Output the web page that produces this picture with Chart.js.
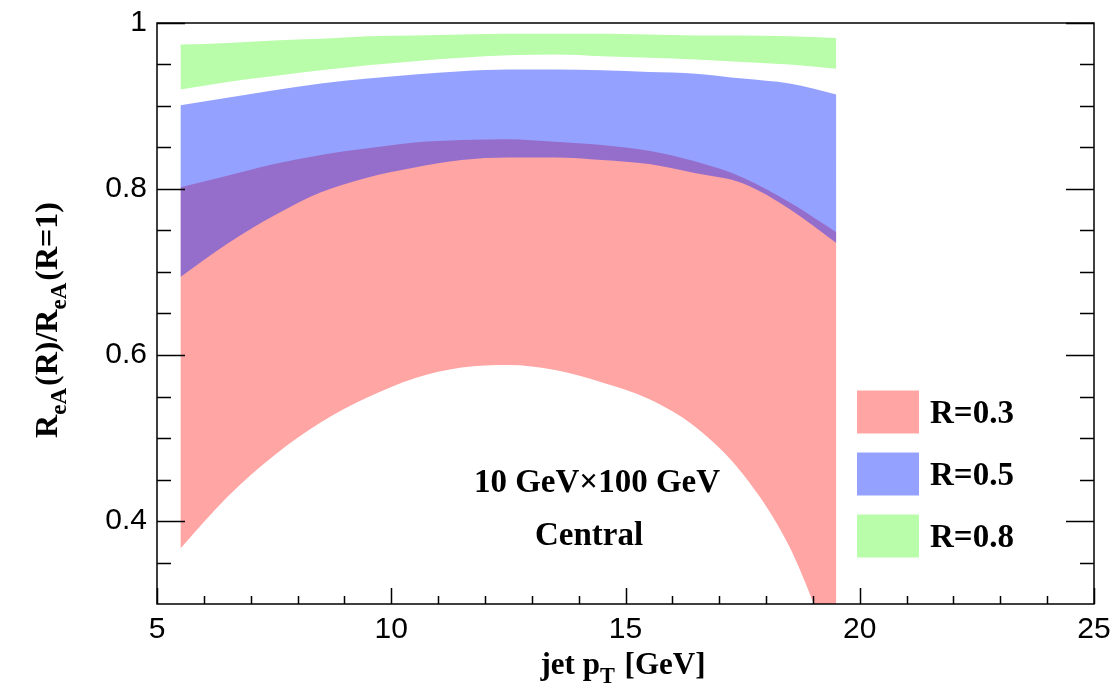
<!DOCTYPE html>
<html lang="en">
<head>
    <meta charset="UTF-8">
    <title>Jet R dependence of R_eA</title>
    <script src="https://cdn.jsdelivr.net/npm/chart.js"></script>
    <style>
        body {
            margin: 0;
            background: #fff;
        }
        #bandChart {
            display: block;
        }
    </style>
</head>
<body>
    <canvas id="bandChart" width="1112" height="692"></canvas>

    <script>
        // jet pT grid (GeV) and the lower / upper edges of each uncertainty band
        const ptGeV = [5.5, 6.5, 7.5, 8.5, 9.5, 10.5, 11.5, 12.5, 13.5, 14.5, 15.5, 16.5, 17.5, 18.5, 19.5];

        const r03Low  = [0.367, 0.429, 0.479, 0.519, 0.549, 0.572, 0.585, 0.588, 0.582, 0.567, 0.547, 0.513, 0.457, 0.369, 0.230];
        const r03High = [0.802, 0.816, 0.830, 0.841, 0.849, 0.856, 0.859, 0.860, 0.857, 0.853, 0.846, 0.833, 0.814, 0.784, 0.748];

        const r05Low  = [0.694, 0.734, 0.768, 0.796, 0.814, 0.826, 0.835, 0.838, 0.838, 0.835, 0.830, 0.819, 0.807, 0.776, 0.735];
        const r05High = [0.901, 0.910, 0.919, 0.927, 0.933, 0.938, 0.942, 0.944, 0.944, 0.943, 0.941, 0.939, 0.933, 0.927, 0.914];

        const r08Low  = [0.920, 0.929, 0.936, 0.943, 0.949, 0.954, 0.958, 0.961, 0.962, 0.960, 0.958, 0.956, 0.953, 0.950, 0.945];
        const r08High = [0.974, 0.976, 0.979, 0.981, 0.984, 0.985, 0.986, 0.987, 0.987, 0.987, 0.986, 0.985, 0.985, 0.984, 0.982];

        const bandLabels = ["R=0.3", "R=0.5", "R=0.8"];
        const xTicks = [5, 10, 15, 20, 25];
        const yTicks = [0.4, 0.6, 0.8, 1];

        const red = "#ffa5a3";
        const blue = "rgba(14, 41, 255, 0.44)";
        const green = "#b9fcaa";

        const serifBold = "bold 33px 'Liberation Serif', 'DejaVu Serif', serif";

        function pts(ys) {
            return ptGeV.map((x, i) => ({ x: x, y: ys[i] }));
        }

        function edge(ys, fillTo, color, order, label) {
            return {
                label: label,
                data: pts(ys),
                borderWidth: 0,
                pointRadius: 0,
                backgroundColor: color,
                fill: fillTo,
                order: order,
                cubicInterpolationMode: "monotone"
            };
        }

        // draws a string made of normal and subscript pieces, starting at x
        function richText(ctx, parts, x, y, size) {
            let cx = x;
            parts.forEach(p => {
                const s = p.sub ? size * 0.72 : size;
                ctx.font = "bold " + s + "px 'Liberation Serif', 'DejaVu Serif', serif";
                ctx.fillText(p.t, cx, p.sub ? y + size * 0.28 : y);
                cx += ctx.measureText(p.t).width + (p.sub ? 2 : 0);
            });
            return cx - x;
        }

        function richWidth(ctx, parts, size) {
            let w = 0;
            parts.forEach(p => {
                const s = p.sub ? size * 0.72 : size;
                ctx.font = "bold " + s + "px 'Liberation Serif', 'DejaVu Serif', serif";
                w += ctx.measureText(p.t).width + (p.sub ? 2 : 0);
            });
            return w;
        }

        const framePlugin = {
            id: "frame",
            afterDraw(chart) {
                const ctx = chart.ctx;
                const a = chart.chartArea;
                const xs = chart.scales.x;
                const ys = chart.scales.y;

                ctx.save();
                ctx.strokeStyle = "#000";
                ctx.lineWidth = 1.5;
                ctx.strokeRect(a.left, a.top, a.right - a.left, a.bottom - a.top);

                // y ticks on the left and right, pointing inwards
                ctx.beginPath();
                for (let v = 0.35; v < 1.0001; v += 0.05) {
                    const major = yTicks.some(t => Math.abs(t - v) < 1e-6);
                    const len = major ? 28 : 14;
                    const py = Math.round(ys.getPixelForValue(v)) + 0.5;
                    ctx.moveTo(a.left, py);
                    ctx.lineTo(a.left + len, py);
                    ctx.moveTo(a.right, py);
                    ctx.lineTo(a.right - len, py);
                }
                // x ticks along the bottom
                for (let v = 5; v <= 25; v++) {
                    const major = xTicks.includes(v);
                    const len = major ? 16 : 8;
                    const px = Math.round(xs.getPixelForValue(v)) + 0.5;
                    ctx.moveTo(px, a.bottom);
                    ctx.lineTo(px, a.bottom - len);
                }
                ctx.stroke();

                ctx.fillStyle = "#000";
                ctx.textBaseline = "alphabetic";
                ctx.textAlign = "left";

                // x axis title
                const xt = [{ t: "jet p" }, { t: "T", sub: true }, { t: " [GeV]" }];
                const xw = richWidth(ctx, xt, 31);
                richText(ctx, xt, 623 - xw / 2, 674, 31);

                // y axis title, rotated
                const yt = [{ t: "R" }, { t: "eA", sub: true }, { t: "(R)/R" }, { t: "eA", sub: true }, { t: "(R=1)" }];
                ctx.save();
                ctx.translate(57, 320);
                ctx.rotate(-Math.PI / 2);
                const yw = richWidth(ctx, yt, 32);
                richText(ctx, yt, -yw / 2, 0, 32);
                ctx.restore();

                // collision setup label
                ctx.font = serifBold;
                ctx.textAlign = "center";
                ctx.fillText("10 GeV\u00d7100 GeV", 597, 492);
                ctx.fillText("Central", 589, 545);

                // legend boxes, one per band
                const bands = chart.data.datasets.filter(d => d.label);
                ctx.textAlign = "left";
                ctx.textBaseline = "middle";
                bands.forEach((d, i) => {
                    const cy = 412 + i * 62;
                    ctx.fillStyle = d.backgroundColor;
                    ctx.fillRect(857, cy - 21.5, 62, 43);
                    ctx.fillStyle = "#000";
                    ctx.font = serifBold;
                    ctx.fillText(d.label, 930, cy + 2);
                });
                ctx.restore();
            }
        };

        const tickFont = { family: "'Liberation Sans', Arial, sans-serif", size: 30 };

        new Chart(document.getElementById("bandChart"), {
            type: "line",
            data: {
                datasets: [
                    edge(r03Low, false, red, 3),
                    edge(r03High, 0, red, 3, bandLabels[0]),
                    edge(r05Low, false, blue, 2),
                    edge(r05High, 2, blue, 2, bandLabels[1]),
                    edge(r08Low, false, green, 1),
                    edge(r08High, 4, green, 1, bandLabels[2])
                ]
            },
            options: {
                responsive: false,
                animation: false,
                devicePixelRatio: 1,
                layout: { padding: { top: 23, right: 18, left: 0, bottom: 0 } },
                plugins: {
                    legend: { display: false },
                    tooltip: { enabled: false }
                },
                scales: {
                    x: {
                        type: "linear",
                        min: 5,
                        max: 25,
                        grid: { display: false, drawTicks: false },
                        border: { display: false },
                        ticks: { color: "#000", font: tickFont, padding: 8, maxRotation: 0 },
                        afterBuildTicks: s => { s.ticks = xTicks.map(v => ({ value: v })); },
                        afterFit: s => { s.height = 88; s.paddingLeft = 0; s.paddingRight = 0; }
                    },
                    y: {
                        min: 0.3,
                        max: 1,
                        grid: { display: false, drawTicks: false },
                        border: { display: false },
                        ticks: { color: "#000", font: tickFont, padding: 10, callback: v => String(v) },
                        afterBuildTicks: s => { s.ticks = yTicks.map(v => ({ value: v })); },
                        afterFit: s => { s.width = 157; s.paddingTop = 0; s.paddingBottom = 0; }
                    }
                }
            },
            plugins: [framePlugin]
        });
    </script>
</body>
</html>
